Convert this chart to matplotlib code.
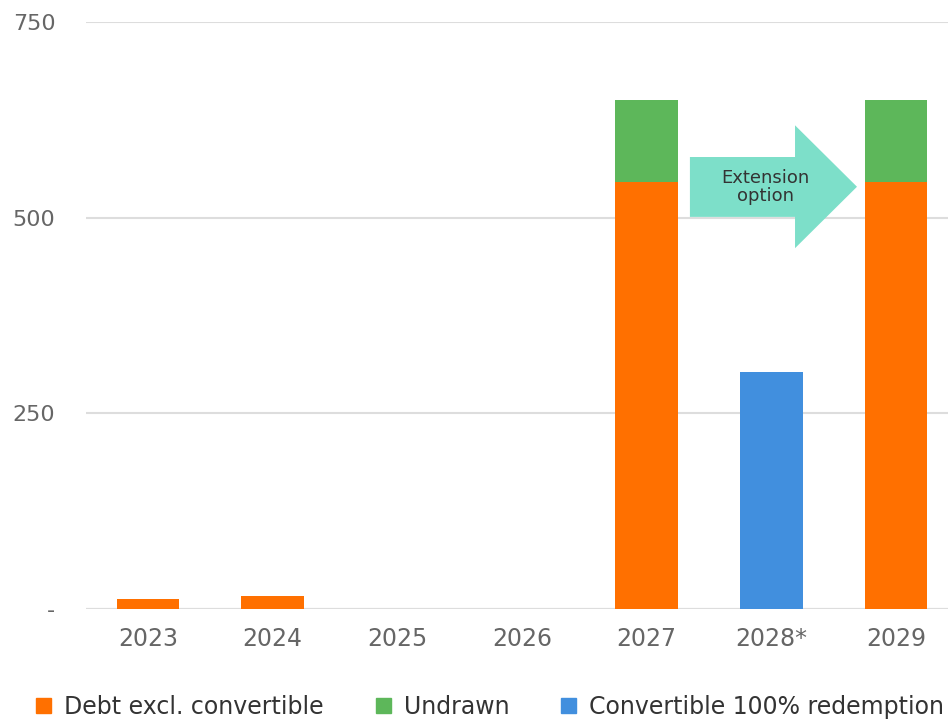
import matplotlib
matplotlib.use("Agg")
import matplotlib.pyplot as plt
from matplotlib.patches import Polygon, Patch

plt.rcParams['font.family'] = ['DejaVu Sans']

categories = ["2023", "2024", "2025", "2026", "2027", "2028*", "2029"]
debt_excl_convertible = [13, 17, 0, 0, 545, 0, 545]
undrawn = [0, 0, 0, 0, 105, 0, 105]
convertible = [0, 0, 0, 0, 0, 303, 0]
ytick_values = [0, 250, 500, 750]
ytick_labels = ["-", "250", "500", "750"]

c_orange = "#FF7000"
c_green = "#5DB75A"
c_blue = "#418FDE"

fig = plt.figure(figsize=(9.48, 7.19), dpi=100)
ax = fig.add_axes([86/948, 110/719, 1 - 86/948, (609-22)/719])

x = list(range(len(categories)))
w = 0.5
ax.bar(x, debt_excl_convertible, width=w, color=c_orange, zorder=3)
ax.bar(x, undrawn, width=w, bottom=debt_excl_convertible, color=c_green, zorder=3)
ax.bar(x, convertible, width=w, color=c_blue, zorder=3)

ax.set_xlim(-0.497, 6.417)
ax.set_ylim(0, 750)
ax.set_yticks(ytick_values)
ax.set_yticklabels(ytick_labels)
ax.set_xticks(x)
ax.set_xticklabels(categories)
ax.yaxis.grid(True, color="#DDDDDD", linewidth=1.5, zorder=0)
ax.set_axisbelow(True)
for s in ax.spines.values():
    s.set_visible(False)
ax.tick_params(axis='both', length=0, colors="#666666")
ax.tick_params(axis='x', pad=13, labelsize=17)
ax.tick_params(axis='y', pad=22, labelsize=16)
ax.axhline(0, color="#DDDDDD", linewidth=1.5, zorder=1)

# Extension arrow
arrow = Polygon([(4.347, 577.5), (5.19, 577.5), (5.19, 618), (5.687, 539.5),
                 (5.19, 461), (5.19, 501), (4.347, 501)],
                closed=True, facecolor="#7DDFC9", edgecolor="none", zorder=4)
ax.add_patch(arrow)
ax.text(4.95, 539.5, "Extension\noption", ha='center', va='center',
        fontsize=13, color="#333333", linespacing=1.0, zorder=5)

handles = [Patch(color=c_orange, label="Debt excl. convertible"),
           Patch(color=c_green, label="Undrawn"),
           Patch(color=c_blue, label="Convertible 100% redemption")]
fig.legend(handles=handles, loc='center', bbox_to_anchor=(0.517, 0.0167), ncol=3,
           frameon=False, fontsize=17, handlelength=0.63, handleheight=0.63,
           handletextpad=0.55, columnspacing=2.2, labelcolor="#333333")

fig.savefig("out.png", dpi=100)
